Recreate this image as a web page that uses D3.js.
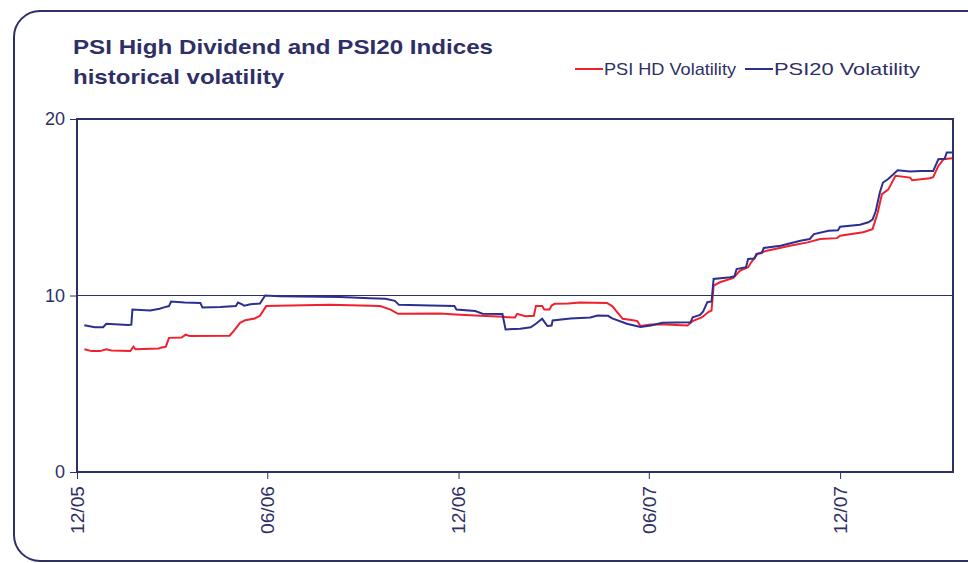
<!DOCTYPE html>
<html>
<head>
<meta charset="utf-8">
<script src="https://cdn.jsdelivr.net/npm/d3@7"></script>
<style>
    body { margin: 0; background: #fff; }
    text { font-family: "Liberation Sans", Arial, sans-serif; fill: #2e2f66; }
</style>
</head>
<body>
<div id="vis"></div>
<script>

// PSI HD volatility (red)
const hdDates = ['2005-12-08','2005-12-15','2005-12-23','2005-12-29','2006-01-03','2006-01-21','2006-01-24','2006-01-26',
    '2006-02-17','2006-02-20','2006-02-24','2006-02-27','2006-03-11','2006-03-15','2006-03-19','2006-04-26','2006-04-30',
    '2006-05-06','2006-05-11','2006-05-20','2006-05-25','2006-05-31','2006-06-23','2006-07-31','2006-08-29','2006-09-17',
    '2006-09-27','2006-10-04','2006-11-13','2006-11-28','2006-12-22','2007-01-13','2007-01-16','2007-01-24','2007-01-26',
    '2007-02-03','2007-02-11','2007-02-13','2007-02-19','2007-02-21','2007-02-26','2007-02-28','2007-03-03','2007-03-16',
    '2007-03-27','2007-04-22','2007-04-27','2007-05-07','2007-05-17','2007-05-21','2007-05-24','2007-06-03','2007-06-17',
    '2007-07-08','2007-07-13','2007-07-22','2007-07-28','2007-07-31','2007-08-02','2007-08-08','2007-08-21','2007-08-24',
    '2007-08-27','2007-09-04','2007-09-07','2007-09-13','2007-09-22','2007-10-14','2007-10-31','2007-11-12','2007-11-28',
    '2007-12-01','2007-12-23','2008-01-01','2008-01-06','2008-01-10','2008-01-16','2008-01-23','2008-02-06','2008-02-08',
    '2008-02-25','2008-02-28','2008-03-04','2008-03-09','2008-03-17'];
const hdValues = [6.95,6.85,6.85,6.95,6.88,6.85,7.1,6.95,
    7.0,7.05,7.1,7.6,7.62,7.78,7.7,7.72,8.0,
    8.45,8.6,8.7,8.85,9.4,9.43,9.48,9.43,9.4,
    9.2,8.96,8.98,8.93,8.85,8.8,8.77,8.75,8.96,
    8.83,8.85,9.4,9.4,9.2,9.2,9.43,9.53,9.55,
    9.6,9.58,9.4,8.68,8.6,8.55,8.27,8.35,8.35,
    8.3,8.55,8.77,9.06,9.15,10.56,10.75,11.0,11.2,
    11.4,11.6,11.88,12.36,12.54,12.82,13.01,13.2,13.25,
    13.39,13.58,13.76,14.7,15.74,16.0,16.78,16.68,16.53,
    16.64,16.7,17.34,17.72,17.78];

// PSI20 volatility (blue)
const psiDates = ['2005-12-08','2005-12-18','2005-12-26','2005-12-29','2006-01-19','2006-01-22','2006-01-23','2006-02-09',
    '2006-02-18','2006-02-23','2006-02-27','2006-03-01','2006-03-14','2006-03-29','2006-03-31','2006-04-17','2006-05-02',
    '2006-05-04','2006-05-08','2006-05-10','2006-05-16','2006-05-25','2006-05-30','2006-06-13','2006-07-02','2006-08-10',
    '2006-09-07','2006-09-22','2006-10-01','2006-10-05','2006-11-04','2006-11-27','2006-11-29','2006-12-17','2006-12-24',
    '2007-01-12','2007-01-15','2007-01-29','2007-02-08','2007-02-13','2007-02-19','2007-02-24','2007-02-28','2007-03-01',
    '2007-03-18','2007-04-06','2007-04-13','2007-04-23','2007-04-27','2007-05-11','2007-05-24','2007-06-03','2007-06-14',
    '2007-07-11','2007-07-13','2007-07-20','2007-07-23','2007-07-27','2007-07-31','2007-08-02','2007-08-18','2007-08-22',
    '2007-08-24','2007-09-02','2007-09-04','2007-09-10','2007-09-12','2007-09-17','2007-09-19','2007-10-05','2007-10-24',
    '2007-11-02','2007-11-06','2007-11-20','2007-11-29','2007-12-01','2007-12-20','2007-12-28','2008-01-01','2008-01-04',
    '2008-01-08','2008-01-11','2008-01-16','2008-01-21','2008-01-25','2008-02-06','2008-02-16','2008-02-28','2008-03-04',
    '2008-03-10','2008-03-12','2008-03-17'];
const psiValues = [8.31,8.2,8.2,8.4,8.33,8.35,9.2,9.15,
    9.25,9.34,9.4,9.66,9.6,9.58,9.32,9.35,9.4,
    9.6,9.5,9.42,9.5,9.55,10.0,9.96,9.95,9.92,
    9.85,9.82,9.7,9.47,9.43,9.4,9.2,9.12,8.97,
    8.95,8.08,8.12,8.2,8.4,8.68,8.27,8.3,8.59,
    8.7,8.75,8.87,8.85,8.7,8.4,8.21,8.3,8.45,
    8.49,8.77,8.9,9.1,9.62,9.66,10.94,11.03,11.1,
    11.5,11.6,12.07,12.1,12.36,12.4,12.69,12.82,13.1,
    13.2,13.48,13.67,13.7,13.9,14.01,14.15,14.3,14.76,
    15.84,16.4,16.6,16.87,17.1,17.02,17.05,17.05,17.72,
    17.75,18.1,18.1];

const xTickDates = ['2005-12-01','2006-06-01','2006-12-01','2007-06-01','2007-12-01'];
const xTickLabels = ['12/05','06/06','12/06','06/07','12/07'];
const yTicks = [0, 10, 20];
const seriesNames = ['PSI HD Volatility', 'PSI20 Volatility'];

const parse = d3.timeParse('%Y-%m-%d');
const hd = hdDates.map((d, i) => ({date: parse(d), value: hdValues[i]}));
const psi = psiDates.map((d, i) => ({date: parse(d), value: psiValues[i]}));

const W = 968, H = 563;
let margin = {top: 119, right: 15, bottom: 91, left: 77};
let width = W - margin.left - margin.right,
    height = H - margin.top - margin.bottom;

let navy = '#2e2f66';
let red = '#f0212e';
let blue = '#2b3090';

let svg = d3.select('#vis')
    .append('svg')
    .attr('width', W)
    .attr('height', H);

// frame (right side runs off the picture)
svg.append('rect')
    .attr('x', 14).attr('y', 11)
    .attr('width', 980).attr('height', 550)
    .attr('rx', 26).attr('ry', 26)
    .attr('fill', 'none')
    .attr('stroke', navy)
    .attr('stroke-width', 2);

// title
let title = svg.append('g').attr('font-weight', 'bold').attr('font-size', 21);
title.append('text').attr('x', 73).attr('y', 54)
    .attr('textLength', 420).attr('lengthAdjust', 'spacingAndGlyphs')
    .text('PSI High Dividend and PSI20 Indices');
title.append('text').attr('x', 73).attr('y', 84)
    .attr('textLength', 211).attr('lengthAdjust', 'spacingAndGlyphs')
    .text('historical volatility');

// scales
let xScale = d3.scaleTime()
    .domain([parse('2005-12-01'), parse('2008-03-18')])
    .range([0, width]);

let yScale = d3.scaleLinear()
    .domain([0, 20])
    .range([height, 0]);

let g = svg.append('g')
    .attr('transform', 'translate(' + margin.left + ',' + margin.top + ')');

// gridline at 10
g.append('line')
    .attr('x1', 0).attr('x2', width)
    .attr('y1', yScale(10)).attr('y2', yScale(10))
    .attr('stroke', navy).attr('stroke-width', 1);

// lines
let line = d3.line()
    .x(d => xScale(d.date))
    .y(d => yScale(d.value));

g.append('path').datum(hd)
    .attr('d', line)
    .attr('fill', 'none')
    .attr('stroke', red)
    .attr('stroke-width', 2);

g.append('path').datum(psi)
    .attr('d', line)
    .attr('fill', 'none')
    .attr('stroke', blue)
    .attr('stroke-width', 2);

// plot border
g.append('rect')
    .attr('x', 0).attr('y', 0)
    .attr('width', width).attr('height', height)
    .attr('fill', 'none')
    .attr('stroke', navy)
    .attr('stroke-width', 2);

// y axis
let yAxis = g.append('g')
    .call(d3.axisLeft(yScale).tickValues(yTicks).tickSize(7).tickPadding(5));
yAxis.select('.domain').remove();
yAxis.selectAll('line').attr('stroke', navy);
yAxis.selectAll('text')
    .attr('font-size', 18)
    .attr('font-family', '"Liberation Sans", Arial, sans-serif')
    .attr('fill', navy);

// x axis
let xAxis = g.append('g')
    .attr('transform', 'translate(0,' + height + ')')
    .call(d3.axisBottom(xScale)
        .tickValues(xTickDates.map(parse))
        .tickFormat((d, i) => xTickLabels[i])
        .tickSize(7));
xAxis.select('.domain').remove();
xAxis.selectAll('line').attr('stroke', navy);
xAxis.selectAll('text')
    .attr('font-size', 18)
    .attr('font-family', '"Liberation Sans", Arial, sans-serif')
    .attr('fill', navy)
    .attr('text-anchor', 'end')
    .attr('textLength', 48)
    .attr('lengthAdjust', 'spacingAndGlyphs')
    .attr('transform', 'rotate(-90)')
    .attr('x', -14)
    .attr('y', 0)
    .attr('dy', '0.35em');

// legend
let legend = svg.append('g');
let legendItems = [
    {name: seriesNames[0], color: red, x: 575, len: 132},
    {name: seriesNames[1], color: blue, x: 745, len: 146}
];
legendItems.forEach(function(item) {
    legend.append('line')
        .attr('x1', item.x).attr('x2', item.x + 28)
        .attr('y1', 69).attr('y2', 69)
        .attr('stroke', item.color).attr('stroke-width', 2);
    legend.append('text')
        .attr('x', item.x + 29).attr('y', 75)
        .attr('font-size', 17)
        .attr('font-family', '"Liberation Sans Narrow", "Liberation Sans", Arial, sans-serif')
        .attr('textLength', item.len)
        .attr('lengthAdjust', 'spacingAndGlyphs')
        .text(item.name);
});

</script>
</body>
</html>
